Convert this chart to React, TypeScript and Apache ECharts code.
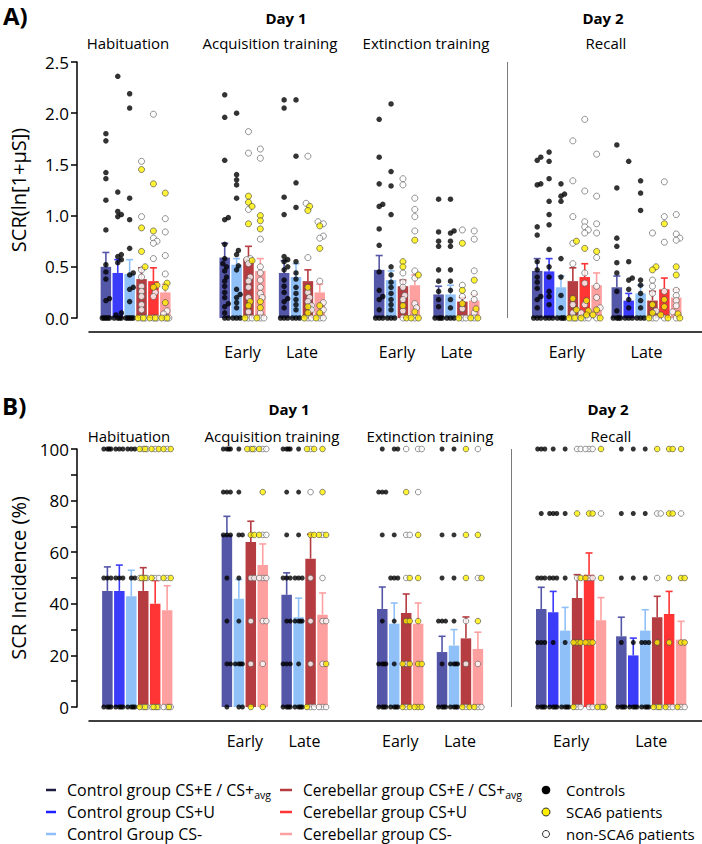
import React, { useEffect, useRef } from "react";
import * as echarts from "echarts";

// ---------- categories ----------
const CONDITIONS = ["Habituation", "Acquisition Early", "Acquisition Late", "Extinction Early", "Extinction Late", "Recall Early", "Recall Late"];
// bar types: 0 Control CS+E/avg, 1 Control CS+U, 2 Control CS-, 3 Cerebellar CS+E/avg, 4 Cerebellar CS+U, 5 Cerebellar CS-
const BAR_TYPES = [[0, 1, 2, 3, 4, 5], [0, 2, 3, 5], [0, 2, 3, 5], [0, 2, 3, 5], [0, 2, 3, 5], [0, 1, 2, 3, 4, 5], [0, 1, 2, 3, 4, 5]];
const PHASE_LABELS = ["", "Early", "Late", "Early", "Late", "Early", "Late"];
const TITLE_TEXTS = ["Habituation", "Acquisition training", "Extinction training", "Recall"];
const DAY_TEXTS = ["Day 1", "Day 2"];

// ---------- panel A: SCR (ln[1+µS]) ----------
const A_MEANS = [
  [0.50, 0.44, 0.43, 0.38, 0.36, 0.25],
  [0.59, 0.52, 0.58, 0.46],
  [0.44, 0.40, 0.36, 0.25],
  [0.47, 0.37, 0.31, 0.32],
  [0.23, 0.23, 0.16, 0.17],
  [0.46, 0.455, 0.30, 0.36, 0.40, 0.32],
  [0.30, 0.17, 0.24, 0.17, 0.28, 0.20],
];
const A_UPPER = [
  [0.64, 0.57, 0.57, 0.49, 0.49, 0.33],
  [0.73, 0.58, 0.70, 0.58],
  [0.56, 0.53, 0.47, 0.33],
  [0.61, 0.46, 0.37, 0.42],
  [0.31, 0.32, 0.20, 0.23],
  [0.58, 0.58, 0.41, 0.49, 0.53, 0.44],
  [0.41, 0.24, 0.32, 0.26, 0.39, 0.28],
];

const A_HAB_CTRL = [
  [1.80, 1.73, 1.42, 1.36, 1.15, 0.86, 0.52, 0.45, 0.38, 0.19, 0.17, 0, 0, 0, 0, 0],
  [2.36, 1.23, 1.04, 1.01, 0.99, 0.62, 0.60, 0.57, 0.54, 0.05, 0.03, 0, 0, 0, 0],
  [2.19, 2.05, 1.17, 0.96, 0.68, 0.44, 0.42, 0.30, 0.28, 0.16, 0, 0, 0, 0, 0],
];
const A_HAB_SCA6 = [[1.45, 0.88, 0.65, 0.50, 0, 0], [1.31, 0.85, 0.32, 0.30, 0, 0], [1.22, 0.34, 0.30, 0.15, 0, 0]];
const A_HAB_NON = [
  [1.53, 0.99, 0.47, 0.40, 0.31, 0.26, 0.21, 0.13, 0.08, 0, 0],
  [1.99, 0.78, 0.75, 0.73, 0.58, 0.25, 0.21, 0, 0],
  [0.97, 0.84, 0.61, 0.43, 0.07, 0.04, 0, 0],
];
const A_ACQE_CTRL = [
  [2.18, 1.96, 1.54, 0.98, 0.96, 0.72, 0.58, 0.53, 0.50, 0.46, 0.40, 0.36, 0.31, 0.25, 0.20, 0.14, 0.11, 0.05, 0, 0],
  [2.00, 1.40, 1.35, 1.30, 1.17, 0.66, 0.62, 0.51, 0.47, 0.28, 0.23, 0.20, 0.15, 0.10, 0, 0, 0],
];
const A_ACQE_SCA6 = [[1.19, 1.13, 1.09, 0.92, 0.56, 0.16, 0.12, 0], [1.00, 0.95, 0.87, 0.16, 0.10, 0]];
const A_ACQE_NON = [
  [1.82, 1.61, 1.06, 0.58, 0.57, 0.53, 0.40, 0.36, 0.30, 0.20, 0.06, 0, 0],
  [1.65, 1.56, 0.77, 0.50, 0.44, 0.37, 0.30, 0.24, 0.20, 0.05, 0, 0],
];
const A_ACQL_CTRL = [
  [2.13, 2.05, 1.18, 1.01, 0.60, 0.57, 0.55, 0.50, 0.47, 0.37, 0.31, 0.25, 0.19, 0.16, 0.10, 0, 0, 0],
  [2.13, 1.58, 1.32, 1.08, 0.55, 0.44, 0.38, 0.30, 0.24, 0.18, 0.13, 0.08, 0, 0, 0],
];
const A_ACQL_SCA6 = [[1.09, 1.05, 0.30, 0.11, 0.05, 0], [0.90, 0.68, 0.12, 0.05, 0]];
const A_ACQL_NON = [
  [1.58, 1.12, 0.59, 0.25, 0.20, 0.16, 0.12, 0.08, 0, 0],
  [0.94, 0.92, 0.80, 0.78, 0.36, 0.15, 0.08, 0, 0],
];
const A_EXTE_CTRL = [
  [1.94, 1.57, 1.31, 1.11, 1.09, 0.87, 0.71, 0.45, 0.27, 0.21, 0.18, 0.08, 0, 0, 0],
  [2.09, 1.43, 1.29, 1.01, 0.50, 0.42, 0.35, 0.30, 0.24, 0.18, 0.13, 0.08, 0, 0, 0],
];
const A_EXTE_SCA6 = [[0.55, 0.50, 0.12, 0], [0.76, 0.42, 0.06, 0, 0]];
const A_EXTE_NON = [
  [1.36, 1.30, 0.44, 0.35, 0.30, 0.22, 0.18, 0.07, 0],
  [1.17, 1.06, 0.99, 0.85, 0.46, 0.39, 0.14, 0.10, 0],
];
const A_EXTL_CTRL = [
  [1.16, 0.84, 0.75, 0.70, 0.47, 0.36, 0.26, 0.18, 0.11, 0, 0, 0, 0],
  [1.16, 0.85, 0.83, 0.75, 0.70, 0.47, 0.36, 0.27, 0.18, 0.10, 0, 0, 0],
];
const A_EXTL_SCA6 = [[0.73, 0.27, 0.14, 0], [0.37, 0.09, 0, 0]];
const A_EXTL_NON = [[0.86, 0.32, 0.21, 0.09, 0, 0], [0.85, 0.77, 0.46, 0.24, 0.18, 0.05, 0]];
const A_RECE_CTRL = [
  [1.57, 1.54, 1.31, 1.30, 0.89, 0.81, 0.55, 0.47, 0.40, 0.35, 0.29, 0.21, 0.18, 0.10, 0, 0, 0],
  [1.62, 1.53, 1.36, 1.14, 1.01, 0.91, 0.67, 0.50, 0.40, 0.26, 0.21, 0.13, 0, 0, 0],
  [1.31, 1.21, 1.19, 1.14, 0.58, 0.40, 0.22, 0.10, 0, 0, 0, 0],
];
const A_RECE_SCA6 = [[0.75, 0.19, 0.08, 0, 0], [0.68, 0.17, 0.07, 0.03, 0], [0.65, 0.08, 0.03, 0]];
const A_RECE_NON = [
  [1.73, 1.34, 0.99, 0.73, 0.53, 0.13, 0.05, 0, 0],
  [1.94, 1.24, 0.94, 0.89, 0.86, 0.83, 0.44, 0.34, 0.13, 0.05, 0, 0],
  [1.60, 1.19, 0.92, 0.83, 0.59, 0.31, 0.20, 0.10, 0],
];
const A_RECL_CTRL = [
  [1.69, 1.27, 0.78, 0.70, 0.54, 0.44, 0.26, 0.07, 0, 0, 0, 0],
  [1.53, 0.55, 0.39, 0.37, 0.28, 0.18, 0.10, 0, 0, 0],
  [1.34, 1.22, 1.05, 0.37, 0.32, 0.24, 0.17, 0.10, 0, 0, 0],
];
const A_RECL_SCA6 = [[0.50, 0.47, 0.13, 0.05, 0], [0.92, 0.18, 0.11, 0.03, 0], [0.50, 0.42, 0.04, 0]];
const A_RECL_NON = [
  [0.83, 0.37, 0.31, 0.24, 0.07, 0, 0],
  [1.33, 0.99, 0.74, 0.26, 0],
  [1.01, 0.82, 0.78, 0.76, 0.27, 0.22, 0.17, 0.12, 0.06, 0],
];

// ---------- panel B: SCR incidence (%) ----------
const B_MEANS = [
  [45, 45, 42.9, 45, 40, 37.5],
  [66.8, 42, 64, 55],
  [43.5, 34.8, 57.5, 35.8],
  [38, 32.3, 36.4, 32.3],
  [21.3, 23.8, 26.6, 22.5],
  [38, 36.7, 29.6, 42.2, 51.3, 33.6],
  [27.4, 20, 29.6, 34.8, 36, 26.1],
];
const B_UPPER = [
  [54.3, 55, 53, 54, 49, 47],
  [73.9, 49.4, 72, 63.2],
  [52, 42.2, 67, 44.2],
  [46.5, 40.3, 43.8, 40.3],
  [27.4, 30, 34.9, 29],
  [46.4, 44.8, 38.6, 51.3, 59.7, 42.4],
  [34.8, 26.7, 37.7, 42.9, 44.8, 33.2],
];

const B_HAB_CTRL = [
  [100, 100, 100, 100, 50, 50, 50, 0, 0, 0, 0],
  [100, 100, 100, 50, 50, 50, 0, 0, 0, 0],
  [100, 100, 100, 50, 50, 0, 0, 0, 0],
];
const B_HAB_SCA6 = [[100, 100, 50, 50, 0, 0], [100, 100, 50, 0, 0], [100, 100, 50, 50, 0]];
const B_HAB_NON = [[100, 100, 50, 50, 50, 0, 0], [100, 50, 50, 0, 0, 0], [100, 50, 0, 0, 0]];
const B_ACQE_CTRL = [
  [100, 100, 100, 100, 83.3, 83.3, 83.3, 66.7, 66.7, 66.7, 50, 33.3, 16.7, 16.7, 0],
  [100, 83.3, 66.7, 66.7, 50, 33.3, 16.7, 16.7, 16.7, 16.7, 0, 0],
];
const B_ACQE_SCA6 = [[100, 100, 66.7, 66.7, 0], [100, 83.3, 66.7, 0]];
const B_ACQE_NON = [[100, 100, 50, 50, 33.3, 16.7], [100, 100, 66.7, 66.7, 50, 50, 50, 33.3, 33.3, 16.7]];
const B_ACQL_CTRL = [
  [100, 100, 100, 100, 83.3, 66.7, 50, 50, 50, 33.3, 33.3, 16.7, 16.7, 16.7, 0, 0, 0, 0],
  [100, 83.3, 66.7, 50, 50, 50, 33.3, 33.3, 33.3, 33.3, 16.7, 0, 0, 0, 0],
];
const B_ACQL_SCA6 = [[100, 100, 66.7, 66.7, 0], [100, 83.3, 66.7, 66.7, 16.7]];
const B_ACQL_NON = [[100, 83.3, 50, 33.3, 16.7, 0, 0], [66.7, 50, 33.3, 33.3, 16.7, 0, 0, 0]];
const B_EXTE_CTRL = [
  [100, 83.3, 83.3, 83.3, 66.7, 33.3, 16.7, 16.7, 16.7, 16.7, 0, 0, 0, 0],
  [100, 100, 66.7, 50, 50, 50, 33.3, 16.7, 0, 0, 0, 0],
];
const B_EXTE_SCA6 = [[83.3, 50, 33.3, 33.3, 16.7, 16.7, 0, 0], [66.7, 50, 33.3, 16.7, 16.7, 0, 0, 0]];
const B_EXTE_NON = [[100, 66.7, 66.7, 50, 16.7, 0], [100, 100, 83.3]];
const B_EXTL_CTRL = [
  [100, 66.7, 50, 33.3, 33.3, 33.3, 16.7, 0, 0, 0, 0],
  [100, 66.7, 50, 33.3, 16.7, 16.7, 16.7, 16.7, 0, 0, 0, 0],
];
const B_EXTL_SCA6 = [[100, 66.7, 50, 0, 0], [66.7, 50, 33.3, 0]];
const B_EXTL_NON = [[33.3, 16.7, 0], [100, 50, 16.7, 0, 0]];
const B_RECE_CTRL = [
  [100, 100, 100, 75, 50, 50, 50, 25, 25, 25, 0, 0, 0, 0],
  [100, 75, 75, 75, 50, 50, 50, 25, 0, 0, 0, 0],
  [100, 75, 50, 25, 0, 0, 0, 0],
];
const B_RECE_SCA6 = [[75, 50, 25, 25, 25, 0], [75, 75, 50, 25, 25, 25], [100, 50, 0, 0, 0]];
const B_RECE_NON = [[100, 100, 50, 0, 0], [100, 100, 100, 50, 50, 0, 0], [75, 0]];
const B_RECL_CTRL = [
  [100, 75, 50, 25, 0, 0, 0, 0],
  [100, 75, 50, 25, 0, 0, 0, 0],
  [100, 75, 50, 25, 25, 25, 0, 0, 0, 0],
];
const B_RECL_SCA6 = [[100, 25, 0, 0], [100, 100, 75, 75, 50, 25, 0], [100, 50, 50, 25, 25, 0]];
const B_RECL_NON = [[75, 75, 50, 0, 0], [0, 0], [75, 0, 0]];

// ---------- styles / layout ----------
const BAR_COLORS = ["#5457A8", "#3B3BFA", "#90C0F8", "#B53C40", "#FF3535", "#FFA0A0"];
const LEGEND_COLORS = ["#1c1c40", "#1f1fff", "#8FBFF8", "#B53C40", "#FF3535", "#FFA0A0"];
const FONT = '"Open Sans", "Noto Sans", sans-serif';
const GROUP_START = [0, 10, 15, 23, 28, 36.3, 43];
const SEPARATOR_POS = 33.8;

type Pts = { c: number[][]; s: number[][]; n: number[][] };
const A_POINTS: Pts[] = [
  { c: A_HAB_CTRL, s: A_HAB_SCA6, n: A_HAB_NON },
  { c: A_ACQE_CTRL, s: A_ACQE_SCA6, n: A_ACQE_NON },
  { c: A_ACQL_CTRL, s: A_ACQL_SCA6, n: A_ACQL_NON },
  { c: A_EXTE_CTRL, s: A_EXTE_SCA6, n: A_EXTE_NON },
  { c: A_EXTL_CTRL, s: A_EXTL_SCA6, n: A_EXTL_NON },
  { c: A_RECE_CTRL, s: A_RECE_SCA6, n: A_RECE_NON },
  { c: A_RECL_CTRL, s: A_RECL_SCA6, n: A_RECL_NON },
];
const B_POINTS: Pts[] = [
  { c: B_HAB_CTRL, s: B_HAB_SCA6, n: B_HAB_NON },
  { c: B_ACQE_CTRL, s: B_ACQE_SCA6, n: B_ACQE_NON },
  { c: B_ACQL_CTRL, s: B_ACQL_SCA6, n: B_ACQL_NON },
  { c: B_EXTE_CTRL, s: B_EXTE_SCA6, n: B_EXTE_NON },
  { c: B_EXTL_CTRL, s: B_EXTL_SCA6, n: B_EXTL_NON },
  { c: B_RECE_CTRL, s: B_RECE_SCA6, n: B_RECE_NON },
  { c: B_RECL_CTRL, s: B_RECL_SCA6, n: B_RECL_NON },
];

function swarm(vals: number[], pxPerUnit: number, step: number, minDist: number, maxOff: number): number[] {
  const order = vals.map((_, i) => i).sort((a, b) => vals[a] - vals[b]);
  const cands: number[] = [0];
  for (let k = 1; k * step <= maxOff + 1e-6; k++) cands.push(k * step, -k * step);
  const placed: { v: number; o: number }[] = [];
  const out = new Array(vals.length).fill(0);
  for (const i of order) {
    let best = 0;
    let bestScore = -1;
    for (const o of cands) {
      let md = Infinity;
      for (const p of placed) {
        const dy = (vals[i] - p.v) * pxPerUnit;
        const dx = o - p.o;
        md = Math.min(md, Math.hypot(dx, dy));
      }
      if (md >= minDist) {
        best = o;
        break;
      }
      if (md > bestScore) {
        bestScore = md;
        best = o;
      }
    }
    placed.push({ v: vals[i], o: best });
    out[i] = best;
  }
  return out;
}

type PanelCfg = {
  idx: number;
  top: number;
  height: number;
  yMax: number;
  yInterval: number;
  xMin: number;
  xMax: number;
  means: number[][];
  upper: number[][];
  points: Pts[];
  yName: string;
  labelFmt: (v: number) => string;
  dot: number;
};

function buildPanel(cfg: PanelCfg) {
  const gridW = 617;
  const slotPx = gridW / (cfg.xMax - cfg.xMin);
  const pxPerUnit = cfg.height / cfg.yMax;
  const barData: any[] = [];
  const errData: any[] = [];
  const ctrlPts: number[][] = [];
  const scaPts: number[][] = [];
  const nonPts: number[][] = [];
  CONDITIONS.forEach((_, ci) => {
    let cIdx = 0;
    let pIdx = 0;
    BAR_TYPES[ci].forEach((t, bi) => {
      const x = GROUP_START[ci] + bi;
      barData.push({ value: [x, cfg.means[ci][bi]], itemStyle: { color: BAR_COLORS[t] } });
      errData.push([x, cfg.means[ci][bi], cfg.upper[ci][bi], t]);
      if (t < 3) {
        const vals = cfg.points[ci].c[cIdx++];
        const offs = swarm(vals, pxPerUnit, 1.8, 4.2, 4);
        vals.forEach((v, k) => ctrlPts.push([x + offs[k] / slotPx, v]));
      } else {
        const s = cfg.points[ci].s[pIdx];
        const n = cfg.points[ci].n[pIdx];
        pIdx++;
        const vals = [...n, ...s];
        const offs = swarm(vals, pxPerUnit, 1.8, 4.4, 4);
        vals.forEach((v, k) => {
          const pt = [x + offs[k] / slotPx, v];
          if (k < n.length) nonPts.push(pt);
          else scaPts.push(pt);
        });
      }
    });
  });

  const phaseVals: number[] = [];
  const phaseTxt: string[] = [];
  CONDITIONS.forEach((_, ci) => {
    if (PHASE_LABELS[ci]) {
      phaseVals.push(GROUP_START[ci] + (BAR_TYPES[ci].length - 1) / 2);
      phaseTxt.push(PHASE_LABELS[ci]);
    }
  });

  const grid = { left: 85, width: gridW, top: cfg.top, height: cfg.height };
  const xAxis = {
    type: "value",
    gridIndex: cfg.idx,
    min: cfg.xMin,
    max: cfg.xMax,
    offset: 14,
    axisLine: { show: true, onZero: false, lineStyle: { color: "#000", width: 1.5 } },
    axisTick: { show: false },
    splitLine: { show: false },
    axisLabel: {
      show: true,
      customValues: phaseVals,
      margin: 12,
      fontSize: 16,
      fontFamily: FONT,
      color: "#000",
      formatter: (v: number) => {
        const i = phaseVals.findIndex((p) => Math.abs(p - v) < 0.01);
        return i >= 0 ? phaseTxt[i] : "";
      },
    },
  };
  const yAxis = {
    type: "value",
    gridIndex: cfg.idx,
    min: 0,
    max: cfg.yMax,
    interval: cfg.yInterval,
    offset: 12,
    name: cfg.yName,
    nameLocation: "middle",
    nameGap: 49,
    nameTextStyle: { fontSize: 20, fontFamily: FONT, color: "#000" },
    axisLine: { show: true, onZero: false, lineStyle: { color: "#000", width: 1.5 } },
    axisTick: { show: true, length: 6, lineStyle: { color: "#000", width: 1.5 } },
    splitLine: { show: false },
    axisLabel: { fontSize: 17, fontFamily: FONT, color: "#000", margin: 8, formatter: cfg.labelFmt },
  };
  const series: any[] = [
    {
      type: "bar",
      xAxisIndex: cfg.idx,
      yAxisIndex: cfg.idx,
      barWidth: 10.5,
      data: barData,
      z: 2,
      markLine: {
        silent: true,
        symbol: ["none", "none"],
        label: { show: false },
        lineStyle: { color: "#7a7a7a", type: "solid", width: 1 },
        data: [{ xAxis: SEPARATOR_POS }],
      },
    },
    {
      type: "custom",
      xAxisIndex: cfg.idx,
      yAxisIndex: cfg.idx,
      z: 3,
      encode: { x: 0, y: [1, 2] },
      data: errData,
      renderItem: (params: any, api: any) => {
        const x = api.value(0);
        const m = api.value(1);
        const u = api.value(2);
        const col = BAR_COLORS[api.value(3)];
        const p0 = api.coord([x, m]);
        const p1 = api.coord([x, u]);
        return {
          type: "group",
          children: [
            { type: "line", shape: { x1: p0[0], y1: p0[1], x2: p1[0], y2: p1[1] }, style: { stroke: col, lineWidth: 1.6 } },
            { type: "line", shape: { x1: p1[0] - 3.5, y1: p1[1], x2: p1[0] + 3.5, y2: p1[1] }, style: { stroke: col, lineWidth: 1.6 } },
          ],
        };
      },
    },
    {
      type: "scatter",
      xAxisIndex: cfg.idx,
      yAxisIndex: cfg.idx,
      z: 4,
      symbolSize: cfg.dot,
      itemStyle: { color: "#000" },
      data: ctrlPts,
    },
    {
      type: "scatter",
      xAxisIndex: cfg.idx,
      yAxisIndex: cfg.idx,
      z: 4,
      symbolSize: cfg.dot + 0.6,
      itemStyle: { color: "#fff", borderColor: "#555", borderWidth: 0.8 },
      data: nonPts,
    },
    {
      type: "scatter",
      xAxisIndex: cfg.idx,
      yAxisIndex: cfg.idx,
      z: 5,
      symbolSize: cfg.dot + 0.6,
      itemStyle: { color: "#FFF000", borderColor: "#444", borderWidth: 0.8 },
      data: scaPts,
    },
  ];
  return { grid, xAxis, yAxis, series };
}

function txt(text: string, x: number, y: number, size: number, bold = false, align = "center") {
  return {
    type: "text",
    silent: true,
    style: {
      text,
      x,
      y,
      align,
      verticalAlign: "middle",
      font: `${bold ? "bold " : ""}${size}px ${FONT}`,
      fill: "#000",
    },
  };
}

function legendItems() {
  const rows = [790, 812, 834];
  const items: any[] = [];
  const col1 = ["Control group CS+E / CS+{sub|avg}", "Control group CS+U", "Control Group CS-"];
  const col2 = ["Cerebellar group CS+E / CS+{sub|avg}", "Cerebellar group CS+U", "Cerebellar group CS-"];
  const col3 = ["Controls", "SCA6 patients", "non-SCA6 patients"];
  const rich = { sub: { fontSize: 10.5, fontFamily: FONT, padding: [9, 0, 0, 0] } };
  rows.forEach((y, i) => {
    items.push({ type: "line", shape: { x1: 46, y1: y, x2: 56, y2: y }, style: { stroke: LEGEND_COLORS[i], lineWidth: 2.5 } });
    items.push({ type: "text", silent: true, style: { text: col1[i], x: 67, y, verticalAlign: "middle", font: `16px ${FONT}`, fill: "#000", rich } });
    items.push({ type: "line", shape: { x1: 280, y1: y, x2: 292, y2: y }, style: { stroke: LEGEND_COLORS[3 + i], lineWidth: 2.5 } });
    items.push({ type: "text", silent: true, style: { text: col2[i], x: 303, y, verticalAlign: "middle", font: `15.5px ${FONT}`, fill: "#000", rich } });
    items.push({ type: "text", silent: true, style: { text: col3[i], x: 566, y, verticalAlign: "middle", font: `15px ${FONT}`, fill: "#000" } });
  });
  items.push({ type: "circle", shape: { cx: 546, cy: rows[0], r: 4.3 }, style: { fill: "#000" } });
  items.push({ type: "circle", shape: { cx: 546, cy: rows[1], r: 4 }, style: { fill: "#FFF000", stroke: "#333", lineWidth: 1 } });
  items.push({ type: "circle", shape: { cx: 546, cy: rows[2], r: 3.5 }, style: { fill: "#fff", stroke: "#333", lineWidth: 1 } });
  return items;
}

export default function App() {
  const ref = useRef<HTMLDivElement>(null);
  useEffect(() => {
    if (!ref.current) return;
    const chart = echarts.init(ref.current, undefined, { renderer: "svg" });
    const pA = buildPanel({
      idx: 0,
      top: 62,
      height: 256,
      yMax: 2.5,
      yInterval: 0.5,
      xMin: -1.421,
      xMax: 50.168,
      means: A_MEANS,
      upper: A_UPPER,
      points: A_POINTS,
      yName: "SCR(ln[1+μS])",
      labelFmt: (v: number) => v.toFixed(1),
      dot: 5.5,
    });
    const pB = buildPanel({
      idx: 1,
      top: 449,
      height: 258,
      yMax: 100,
      yInterval: 10,
      xMin: -1.538,
      xMax: 49.75,
      means: B_MEANS,
      upper: B_UPPER,
      points: B_POINTS,
      yName: "SCR Incidence (%)",
      labelFmt: (v: number) => (Math.round(v) % 20 === 0 ? String(Math.round(v)) : ""),
      dot: 5,
    });
    const graphics: any[] = [
      txt("A)", 3, 15, 24, true, "left"),
      txt(DAY_TEXTS[0], 286, 18, 15, true),
      txt(DAY_TEXTS[1], 603, 18, 15, true),
      txt(TITLE_TEXTS[0], 128, 43, 15),
      txt(TITLE_TEXTS[1], 270, 43, 15),
      txt(TITLE_TEXTS[2], 426, 43, 15),
      txt(TITLE_TEXTS[3], 606, 43, 15),
      txt("B)", 2, 405, 24, true, "left"),
      txt(DAY_TEXTS[0], 289, 409, 15, true),
      txt(DAY_TEXTS[1], 608, 409, 15, true),
      txt(TITLE_TEXTS[0], 129, 436, 15),
      txt(TITLE_TEXTS[1], 272, 436, 15),
      txt(TITLE_TEXTS[2], 430, 436, 15),
      txt(TITLE_TEXTS[3], 611, 436, 15),
      ...legendItems(),
    ];
    chart.setOption({
      animation: false,
      backgroundColor: "#fff",
      textStyle: { fontFamily: FONT },
      grid: [pA.grid, pB.grid],
      xAxis: [pA.xAxis, pB.xAxis],
      yAxis: [pA.yAxis, pB.yAxis],
      series: [...pA.series, ...pB.series],
      graphic: graphics,
    });
    return () => chart.dispose();
  }, []);
  return <div ref={ref} style={{ position: "fixed", left: 0, top: 0, width: 702, height: 844 }} />;
}
